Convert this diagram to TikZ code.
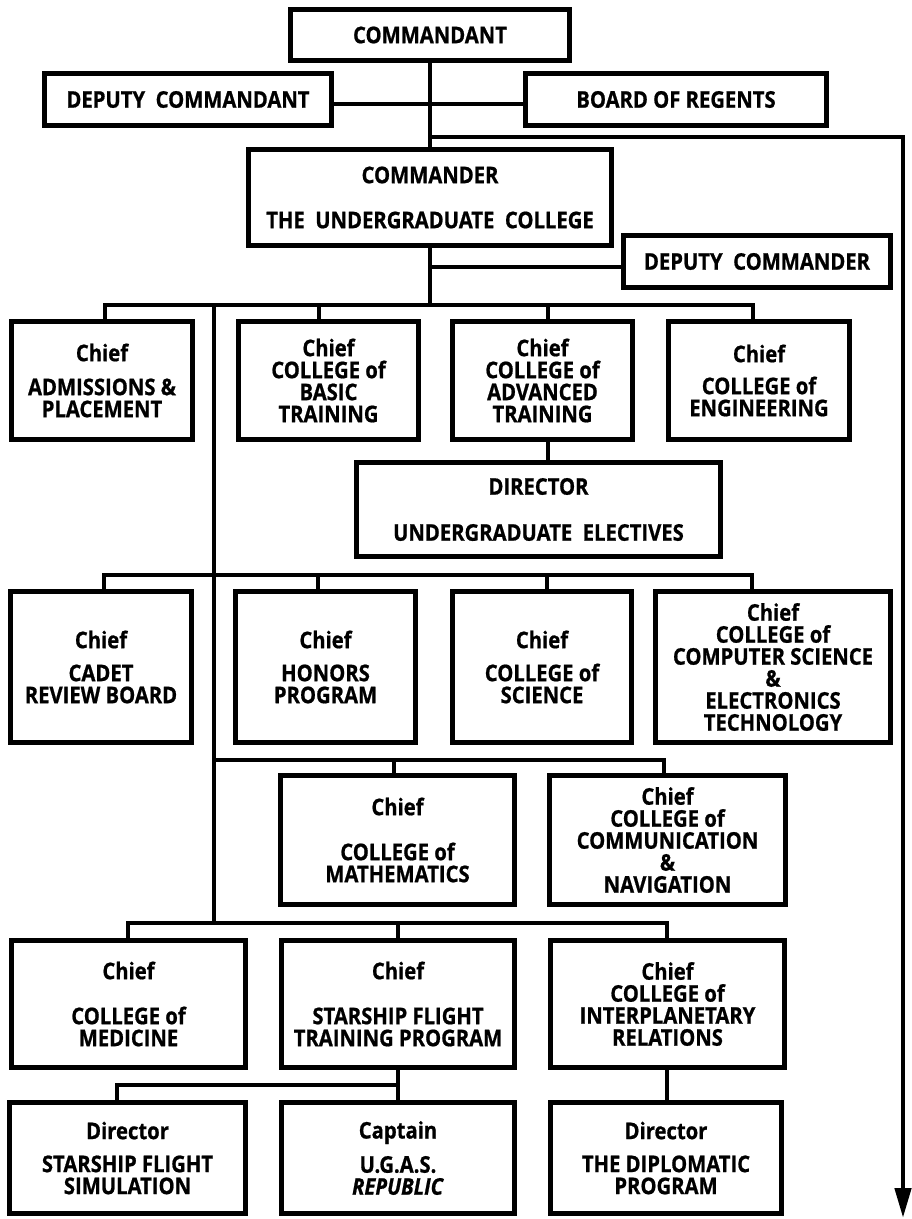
\documentclass[tikz,border=0pt]{standalone}
\usepackage{fontspec}
\setmainfont{Open Sans}[BoldFeatures={FakeStretch=0.88,FakeBold=0.8},BoldItalicFeatures={FakeStretch=0.88,FakeBold=0.8}]
\usetikzlibrary{arrows.meta}
\tikzset{
  box/.style={draw, line width=4.6pt, inner sep=0pt, align=center,
    font=\bfseries\fontsize{23}{22}\selectfont},
  conn/.style={line width=4.6pt, line join=miter},
}
\begin{document}
\begin{tikzpicture}[x=1pt,y=-1pt]
\useasboundingbox (0,0) rectangle (911,1219);
\fill[white] (0,0) rectangle (911,1219);

% top
\node[box, minimum width=278.5pt, minimum height=51.5pt] (cmdt) at (430,35) {COMMANDANT};
\node[box, minimum width=287.5pt, minimum height=52.5pt] (depcmdt) at (188,99.5) {DEPUTY\ \ COMMANDANT};
\node[box, minimum width=301.5pt, minimum height=52.5pt] (regents) at (676,99.5) {BOARD OF REGENTS};
\node[box, minimum width=363.5pt, minimum height=96.5pt] (cmdr) at (430,197.5) {COMMANDER\\[23pt]THE\ \ UNDERGRADUATE\ \ COLLEGE};
\node[box, minimum width=267.5pt, minimum height=52.5pt] (depcmdr) at (757,261.5) {DEPUTY\ \ COMMANDER};

% row 1
\node[box, minimum width=181.5pt, minimum height=118.5pt] (adm) at (102,380.5) {Chief\\[12pt]ADMISSIONS \&\\PLACEMENT};
\node[box, minimum width=180.5pt, minimum height=118.5pt] (basic) at (328.5,380.5) {Chief\\COLLEGE of\\BASIC\\TRAINING};
\node[box, minimum width=180.5pt, minimum height=118.5pt] (adv) at (542.5,380.5) {Chief\\COLLEGE of\\ADVANCED\\TRAINING};
\node[box, minimum width=181.5pt, minimum height=118.5pt] (eng) at (759,380.5) {Chief\\[10pt]COLLEGE of\\ENGINEERING};
\node[box, minimum width=364.5pt, minimum height=94.5pt] (dir) at (538.5,509.5) {DIRECTOR\\[24pt]UNDERGRADUATE\ \ ELECTIVES};

% row 2
\node[box, minimum width=181.5pt, minimum height=151.5pt] (cadet) at (101,667) {Chief\\[11pt]CADET\\REVIEW BOARD};
\node[box, minimum width=180.5pt, minimum height=151.5pt] (honors) at (325.5,667) {Chief\\[11pt]HONORS\\PROGRAM};
\node[box, minimum width=179.5pt, minimum height=151.5pt] (science) at (542,667) {Chief\\[11pt]COLLEGE of\\SCIENCE};
\node[box, minimum width=235.5pt, minimum height=151.5pt] (compsci) at (773,667) {Chief\\COLLEGE of\\COMPUTER SCIENCE\\\&\\ELECTRONICS\\TECHNOLOGY};

% row 3
\node[box, minimum width=234.5pt, minimum height=129.5pt] (math) at (397.5,840) {Chief\\[23pt]COLLEGE of\\MATHEMATICS};
\node[box, minimum width=236.5pt, minimum height=129.5pt] (nav) at (667.5,840) {Chief\\COLLEGE of\\COMMUNICATION\\\&\\NAVIGATION};

% row 4
\node[box, minimum width=234.5pt, minimum height=127.5pt] (med) at (128.5,1004) {Chief\\[23pt]COLLEGE of\\MEDICINE};
\node[box, minimum width=233.5pt, minimum height=127.5pt] (sfp) at (398,1004) {Chief\\[23pt]STARSHIP FLIGHT\\TRAINING PROGRAM};
\node[box, minimum width=234.5pt, minimum height=127.5pt] (ip) at (667.5,1004) {Chief\\COLLEGE of\\INTERPLANETARY\\RELATIONS};

% row 5
\node[box, minimum width=236.5pt, minimum height=111pt] (sim) at (127.5,1158) {Director\\[11pt]STARSHIP FLIGHT\\SIMULATION};
\node[box, minimum width=233.5pt, minimum height=111pt] (cap) at (398,1158) {Captain\\[11pt]U.G.A.S.\\\textit{REPUBLIC}};
\node[box, minimum width=231.5pt, minimum height=111pt] (dip) at (666,1158) {Director\\[11pt]THE DIPLOMATIC\\PROGRAM};

% coordinates
\coordinate (h1) at (0,104);
\coordinate (h2) at (0,267);
\coordinate (a0) at (430,137);
\coordinate (a1) at (903,137);
\coordinate (a2) at (903,1218);
\coordinate (b1c) at (430,305);
\coordinate (b1l) at (105,305);
\coordinate (b1b) at (319,305);
\coordinate (b1a) at (548,305);
\coordinate (b1r) at (753,305);
\coordinate (v0) at (214,305);
\coordinate (b2l) at (104,575);
\coordinate (b2h) at (318,575);
\coordinate (b2s) at (547,575);
\coordinate (b2r) at (752,575);
\coordinate (v3) at (214,760);
\coordinate (b3m) at (394,760);
\coordinate (b3r) at (664,760);
\coordinate (v4) at (214,923);
\coordinate (b4l) at (128,923);
\coordinate (b4m) at (398,923);
\coordinate (b4r) at (667,923);
\coordinate (b5m) at (398,1085);
\coordinate (b5l) at (117,1085);

% connectors
\draw[conn] (cmdt) -- (cmdr);
\draw[conn] (depcmdt.east |- h1) -- (regents.west |- h1);
\draw[conn, -{Triangle[length=30pt,width=16pt]}] (a0) -- (a1) -- (a2);
\draw[conn] (cmdr.south) -- (b1c);
\draw[conn] (cmdr.south |- h2) -- (depcmdr.west |- h2);

\draw[conn] (b1l |- adm.north) -- (b1l) -- (b1r) -- (b1r |- eng.north);
\draw[conn] (b1b) -- (b1b |- basic.north);
\draw[conn] (b1a) -- (b1a |- adv.north);
\draw[conn] (b1a |- adv.south) -- (b1a |- dir.north);

\draw[conn] (v0) -- (v4);

\draw[conn] (b2l |- cadet.north) -- (b2l) -- (b2r) -- (b2r |- compsci.north);
\draw[conn] (b2h) -- (b2h |- honors.north);
\draw[conn] (b2s) -- (b2s |- science.north);

\draw[conn] (v3) -- (b3r) -- (b3r |- nav.north);
\draw[conn] (b3m) -- (b3m |- math.north);

\draw[conn] (b4l |- med.north) -- (b4l) -- (b4r) -- (b4r |- ip.north);
\draw[conn] (b4m) -- (b4m |- sfp.north);

\draw[conn] (sfp) -- (cap);
\draw[conn] (b5m) -- (b5l) -- (b5l |- sim.north);
\draw[conn] (b4r |- ip.south) -- (b4r |- dip.north);
\end{tikzpicture}
\end{document}
